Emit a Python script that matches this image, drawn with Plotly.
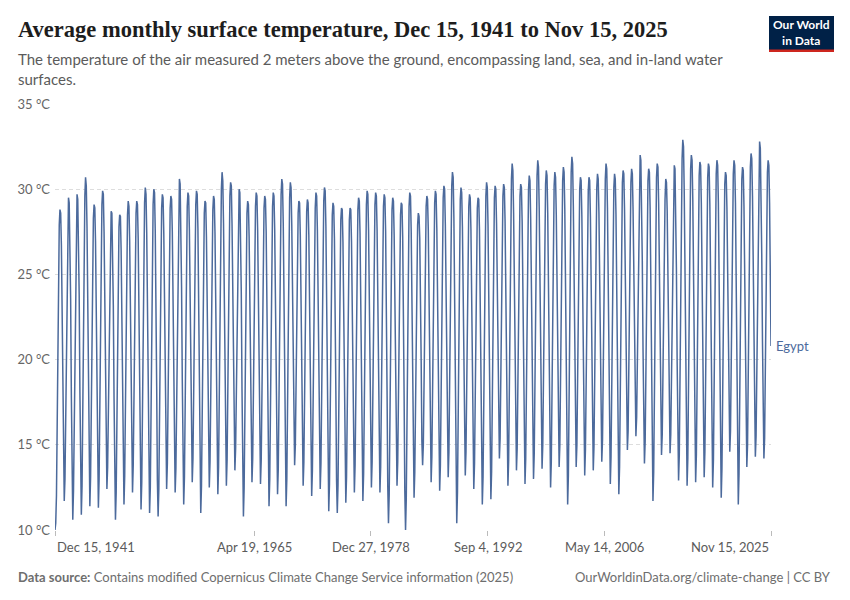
import pandas as pd
import plotly.graph_objects as go

# Monthly average surface temperature in Egypt (°C).
# Series starts Dec 1941 and ends Nov 2025.
temps_1940s = [
    10.0,                                                                    # 1941 Dec
    10.4, 12.0, 15.6, 20.8, 25.4, 27.9, 28.8, 28.6, 26.7, 23.4, 18.2, 13.4,  # 1942
    11.7, 13.0, 16.3, 21.4, 26.1, 28.6, 29.5, 29.2, 27.1, 23.6, 17.9, 12.8,  # 1943
    10.6, 12.3, 16.0, 21.2, 26.0, 28.9, 29.7, 29.4, 27.3, 23.8, 18.1, 12.9,  # 1944
    10.9, 12.6, 16.7, 22.0, 27.1, 29.6, 30.7, 30.2, 27.8, 24.0, 18.6, 13.5,  # 1945
    11.4, 13.1, 16.4, 21.5, 25.9, 28.3, 29.1, 28.9, 26.9, 23.5, 18.4, 13.3,  # 1946
    11.3, 13.0, 16.9, 22.1, 26.6, 29.1, 29.9, 29.7, 27.5, 24.1, 19.0, 14.2,  # 1947
    12.4, 13.7, 16.8, 21.3, 25.6, 28.0, 28.7, 28.6, 26.6, 23.2, 17.8, 12.7,  # 1948
    10.6, 12.2, 15.7, 20.9, 25.3, 27.8, 28.5, 28.4, 26.4, 23.0, 18.0, 13.2,  # 1949
]
temps_1950s = [
    11.5, 13.2, 16.6, 21.6, 26.0, 28.5, 29.3, 29.0, 27.0, 23.7, 18.7, 14.0,  # 1950
    12.2, 13.8, 17.0, 21.8, 26.2, 28.6, 29.3, 29.1, 27.1, 23.6, 18.2, 13.1,  # 1951
    11.2, 12.8, 16.5, 21.9, 26.7, 29.2, 30.1, 29.7, 27.4, 23.9, 18.3, 13.0,  # 1952
    11.0, 12.5, 16.3, 21.7, 26.5, 29.1, 30.0, 29.8, 27.5, 24.0, 18.4, 12.9,  # 1953
    10.8, 12.4, 16.2, 21.5, 26.2, 28.9, 29.7, 29.5, 27.4, 24.1, 19.1, 14.1,  # 1954
    12.4, 13.9, 17.3, 22.2, 26.6, 28.9, 29.6, 29.4, 27.5, 24.2, 19.2, 14.0,  # 1955
    12.2, 13.6, 17.0, 22.4, 27.0, 29.7, 30.6, 30.3, 27.9, 24.3, 18.8, 13.5,  # 1956
    11.5, 13.1, 16.8, 22.0, 26.7, 29.0, 29.8, 29.6, 27.6, 24.3, 19.3, 14.5,  # 1957
    12.8, 14.2, 17.5, 22.3, 26.8, 29.1, 29.9, 29.7, 27.7, 24.0, 18.4, 13.0,  # 1958
    11.0, 12.6, 16.4, 21.7, 26.3, 28.6, 29.3, 29.2, 27.2, 23.9, 19.0, 14.3,  # 1959
]
temps_1960s = [
    12.5, 14.0, 17.2, 22.1, 26.5, 28.8, 29.6, 29.4, 27.4, 24.1, 19.0, 13.9,  # 1960
    12.1, 13.7, 17.4, 22.6, 27.3, 30.0, 31.0, 30.5, 28.0, 24.4, 19.2, 14.2,  # 1961
    12.6, 14.1, 17.6, 22.5, 27.0, 29.6, 30.4, 30.2, 27.9, 24.5, 19.6, 15.0,  # 1962
    13.5, 14.8, 17.9, 22.4, 26.8, 29.2, 30.0, 29.8, 27.7, 24.0, 18.3, 12.8,  # 1963
    10.8, 12.5, 16.4, 21.8, 26.4, 28.6, 29.3, 29.1, 27.2, 24.0, 19.2, 14.4,  # 1964
    12.8, 14.2, 17.4, 22.3, 26.8, 29.0, 29.8, 29.6, 27.6, 24.2, 19.3, 14.3,  # 1965
    12.7, 14.1, 17.3, 22.1, 26.6, 28.9, 29.6, 29.4, 27.5, 23.8, 18.5, 13.2,  # 1966
    11.4, 13.0, 16.7, 22.0, 26.6, 29.0, 29.8, 29.6, 27.6, 24.1, 18.9, 13.8,  # 1967
    12.1, 13.6, 17.2, 22.5, 27.1, 29.7, 30.6, 30.3, 28.0, 24.2, 18.7, 13.3,  # 1968
    11.4, 13.0, 16.9, 22.4, 27.0, 29.5, 30.4, 30.1, 27.9, 24.6, 19.8, 15.2,  # 1969
]
temps_1970s = [
    13.8, 15.0, 17.9, 22.4, 26.6, 28.6, 29.3, 29.2, 27.3, 24.1, 19.2, 14.3,  # 1970
    12.6, 14.0, 17.2, 22.0, 26.3, 28.7, 29.4, 29.2, 27.3, 23.9, 18.6, 13.6,  # 1971
    12.0, 13.5, 16.9, 22.0, 26.5, 28.9, 29.8, 29.6, 27.6, 24.1, 18.8, 13.9,  # 1972
    12.4, 13.9, 17.3, 22.4, 26.9, 29.3, 30.1, 29.9, 27.8, 24.0, 18.4, 13.0,  # 1973
    11.1, 12.7, 16.5, 21.7, 26.2, 28.5, 29.2, 29.0, 27.1, 23.7, 18.2, 12.9,  # 1974
    11.0, 12.6, 16.3, 21.4, 25.9, 28.2, 28.9, 28.8, 26.9, 23.6, 18.5, 13.5,  # 1975
    11.6, 13.1, 16.6, 21.5, 25.9, 28.2, 28.9, 28.8, 26.9, 23.7, 18.9, 14.1,  # 1976
    12.2, 13.8, 17.1, 22.0, 26.4, 28.8, 29.5, 29.3, 27.4, 24.0, 18.7, 13.6,  # 1977
    11.7, 13.3, 16.9, 22.1, 26.7, 29.1, 29.9, 29.7, 27.6, 24.2, 19.1, 14.3,  # 1978
    12.5, 14.0, 17.4, 22.3, 26.8, 29.1, 29.8, 29.6, 27.6, 24.1, 19.0, 14.0,  # 1979
]
temps_1980s = [
    12.2, 13.7, 17.1, 22.1, 26.6, 29.0, 29.7, 29.5, 27.5, 23.9, 18.2, 12.6,  # 1980
    10.4, 12.1, 16.1, 21.6, 26.3, 28.8, 29.5, 29.3, 27.3, 24.1, 19.3, 14.4,  # 1981
    12.6, 14.0, 17.3, 22.0, 26.3, 28.5, 29.2, 29.1, 27.2, 23.6, 17.9, 12.3,  # 1982
    10.0, 11.8, 15.9, 21.5, 26.4, 29.0, 29.8, 29.6, 27.5, 23.8, 18.6, 13.7,  # 1983
    11.9, 13.4, 17.0, 22.2, 26.3, 27.9, 28.6, 28.4, 27.1, 24.5, 19.8, 15.2,  # 1984
    13.8, 15.0, 18.0, 22.6, 26.8, 29.0, 29.6, 29.4, 27.6, 24.3, 19.2, 14.5,  # 1985
    12.8, 14.3, 17.6, 22.4, 26.9, 29.2, 29.9, 29.7, 27.7, 24.2, 19.0, 14.0,  # 1986
    12.3, 13.8, 17.4, 22.5, 27.1, 29.5, 30.2, 30.0, 27.9, 24.6, 19.6, 14.9,  # 1987
    13.1, 14.6, 18.0, 23.1, 27.8, 30.2, 31.0, 30.7, 28.3, 24.4, 18.4, 12.6,  # 1988
    10.4, 12.2, 16.6, 22.3, 27.1, 29.4, 30.1, 29.8, 27.8, 24.6, 19.6, 14.9,  # 1989
]
temps_1990s = [
    13.2, 14.6, 17.9, 22.6, 26.9, 29.0, 29.7, 29.5, 27.6, 24.2, 19.1, 14.3,  # 1990
    12.4, 13.9, 17.4, 22.3, 26.8, 28.9, 29.5, 29.4, 27.6, 24.0, 18.6, 13.5,  # 1991
    11.5, 13.1, 17.0, 22.4, 27.2, 29.6, 30.4, 30.1, 27.9, 24.2, 18.7, 13.8,  # 1992
    11.8, 13.4, 17.3, 22.6, 27.2, 29.5, 30.2, 30.0, 28.0, 24.7, 20.0, 15.6,  # 1993
    14.2, 15.4, 18.5, 23.0, 27.3, 29.6, 30.3, 30.1, 28.1, 24.6, 19.4, 14.6,  # 1994
    12.6, 14.1, 17.8, 23.0, 27.9, 30.6, 31.5, 31.1, 28.6, 25.0, 19.9, 15.2,  # 1995
    13.5, 14.8, 18.2, 23.0, 27.4, 29.6, 30.3, 30.1, 28.1, 24.6, 19.5, 14.8,  # 1996
    12.7, 14.2, 17.8, 23.0, 27.6, 30.0, 30.8, 30.5, 28.3, 24.8, 19.7, 15.0,  # 1997
    13.0, 14.5, 18.2, 23.5, 28.2, 30.8, 31.7, 31.3, 28.9, 25.3, 20.1, 15.4,  # 1998
    13.6, 15.0, 18.5, 23.4, 27.9, 30.3, 31.1, 30.8, 28.6, 25.0, 19.5, 14.6,  # 1999
]
temps_2000s = [
    12.5, 14.0, 17.9, 23.2, 27.8, 30.2, 31.0, 30.7, 28.5, 25.1, 20.1, 15.5,  # 2000
    13.7, 15.0, 18.5, 23.4, 28.0, 30.5, 31.3, 31.0, 28.8, 25.0, 19.2, 13.9,  # 2001
    11.5, 13.2, 17.6, 23.3, 28.3, 31.0, 31.9, 31.5, 29.0, 25.3, 20.2, 15.5,  # 2002
    13.7, 15.0, 18.3, 23.2, 27.7, 30.0, 30.7, 30.5, 28.4, 24.9, 19.8, 15.0,  # 2003
    13.2, 14.7, 18.1, 23.1, 27.6, 29.9, 30.7, 30.5, 28.4, 25.0, 19.9, 15.2,  # 2004
    13.5, 14.9, 18.3, 23.2, 27.8, 30.1, 30.9, 30.6, 28.6, 25.2, 20.2, 15.6,  # 2005
    14.0, 15.3, 18.7, 23.6, 28.1, 30.6, 31.5, 31.2, 28.9, 25.1, 19.6, 14.7,  # 2006
    12.7, 14.3, 18.0, 23.2, 27.8, 30.1, 30.9, 30.6, 28.5, 24.9, 19.3, 14.1,  # 2007
    12.1, 13.7, 17.8, 23.3, 28.0, 30.4, 31.1, 30.9, 28.8, 25.4, 20.5, 16.0,  # 2008
    14.7, 15.8, 19.0, 23.6, 28.0, 30.4, 31.2, 30.9, 28.8, 25.6, 20.9, 16.6,  # 2009
]
temps_2010s = [
    15.5, 16.6, 19.6, 24.3, 28.7, 31.2, 32.0, 31.7, 29.4, 25.8, 20.7, 15.9,  # 2010
    13.9, 15.2, 18.6, 23.5, 28.1, 30.5, 31.2, 31.0, 28.9, 25.0, 19.3, 14.0,  # 2011
    11.7, 13.4, 17.9, 23.5, 28.4, 30.7, 31.5, 31.3, 29.1, 25.6, 20.8, 16.2,  # 2012
    14.4, 15.6, 18.8, 23.6, 27.4, 29.4, 30.6, 30.4, 28.7, 25.5, 20.6, 15.9,  # 2013
    14.5, 15.6, 18.8, 23.6, 28.1, 30.6, 31.4, 31.2, 29.0, 25.3, 19.9, 15.0,  # 2014
    12.9, 14.4, 18.4, 23.8, 28.8, 31.8, 32.9, 32.5, 29.8, 25.8, 20.1, 14.8,  # 2015
    12.6, 14.2, 18.4, 23.9, 28.8, 31.2, 32.0, 31.7, 29.4, 25.6, 20.0, 15.0,  # 2016
    12.8, 14.4, 18.4, 23.7, 28.5, 30.8, 31.6, 31.4, 29.2, 25.6, 20.2, 15.3,  # 2017
    13.1, 14.6, 18.5, 23.7, 28.4, 30.7, 31.5, 31.3, 29.1, 25.4, 19.9, 14.7,  # 2018
    12.5, 14.1, 18.2, 23.7, 28.6, 30.9, 31.7, 31.4, 29.2, 25.3, 19.5, 14.1,  # 2019
]
temps_2020s = [
    11.9, 13.6, 17.9, 23.3, 28.0, 30.3, 31.0, 30.8, 28.9, 25.8, 21.0, 16.4,  # 2020
    14.6, 15.8, 19.0, 23.9, 28.5, 30.9, 31.7, 31.4, 29.2, 25.2, 19.3, 14.0,  # 2021
    11.5, 13.3, 17.8, 23.4, 28.3, 30.6, 31.3, 31.1, 29.0, 25.5, 20.5, 15.9,  # 2022
    13.7, 15.0, 18.8, 24.0, 28.9, 31.3, 32.1, 31.8, 29.6, 26.0, 21.0, 16.5,  # 2023
    14.3, 15.5, 19.1, 24.3, 29.2, 31.9, 32.8, 32.4, 29.9, 26.2, 21.1, 16.4,  # 2024
    14.2, 15.4, 19.0, 24.1, 28.9, 31.0, 31.7, 31.4, 29.2, 25.6, 20.8,        # 2025 (to Nov)
]

country = "Egypt"
start_month = "1941-12-01"
y_ticks = [10, 15, 20, 25, 30, 35]
y_tick_labels = ["10 °C", "15 °C", "20 °C", "25 °C", "30 °C", "35 °C"]
x_tick_dates = ["1941-12-15", "1965-04-19", "1978-12-27", "1992-09-04", "2006-05-14", "2025-11-15"]
x_tick_labels = ["Dec 15, 1941", "Apr 19, 1965", "Dec 27, 1978", "Sep 4, 1992", "May 14, 2006", "Nov 15, 2025"]

temps = (temps_1940s + temps_1950s + temps_1960s + temps_1970s + temps_1980s
         + temps_1990s + temps_2000s + temps_2010s + temps_2020s)
dates = pd.date_range(start=start_month, periods=len(temps), freq="MS") + pd.Timedelta(days=14)

W, H = 850, 600
ML, MR, MT, MB = 55, 79, 104, 70
PW, PH = W - ML - MR, H - MT - MB


def px(x):
    return (x - ML) / PW


def py(y):
    return (H - MB - y) / PH


LINE = "#4c6a9c"
GRAY = "#5b5b5b"
AXIS_GRAY = "#666666"

fig = go.Figure()
fig.add_trace(go.Scatter(
    x=dates, y=temps, mode="lines", name=country,
    line=dict(color=LINE, width=1.5),
    hoverinfo="skip", showlegend=False,
))

fig.update_layout(
    width=W, height=H,
    margin=dict(l=ML, r=MR, t=MT, b=MB),
    paper_bgcolor="white", plot_bgcolor="white",
    font=dict(family="Lato", color=GRAY),
    xaxis=dict(
        type="date",
        range=[dates[0], dates[-1]],
        showgrid=False, zeroline=False, showline=False,
        tickmode="array", tickvals=x_tick_dates, ticktext=[""] * len(x_tick_dates),
        ticks="outside", ticklen=5, tickcolor="#bbbbbb", tickwidth=1,
    ),
    yaxis=dict(
        range=[10, 35],
        tickmode="array", tickvals=y_ticks, ticktext=y_tick_labels,
        showgrid=True, gridcolor="#dddddd", griddash="4px,3px", gridwidth=1,
        zeroline=False, showline=False, ticks="",
        tickfont=dict(family="Lato", size=13, color=AXIS_GRAY),
        ticklabelstandoff=4,
    ),
)

# x tick labels (first left-aligned, last right-aligned, others centred)
for i, (d, lab) in enumerate(zip(x_tick_dates, x_tick_labels)):
    anchor = "left" if i == 0 else ("right" if i == len(x_tick_dates) - 1 else "center")
    fig.add_annotation(x=d, y=0, xref="x", yref="paper", yanchor="top", yshift=-7,
                       xanchor=anchor, text=lab, showarrow=False,
                       font=dict(family="Lato", size=13, color=GRAY))

# series label
fig.add_annotation(x=dates[-1], y=temps[-1], xref="x", yref="y", xanchor="left", xshift=3,
                   text=country, showarrow=False, font=dict(family="Lato", size=13, color=LINE))

# title & subtitle
fig.add_annotation(
    x=px(16), y=py(30), xref="paper", yref="paper", xanchor="left", yanchor="middle",
    text="<b>Average monthly surface temperature, Dec 15, 1941 to Nov 15, 2025</b>",
    showarrow=False, font=dict(family="Liberation Serif", size=22.5, color="#1d1d1d"),
)
fig.add_annotation(
    x=px(16), y=py(48), xref="paper", yref="paper", xanchor="left", yanchor="top",
    text="The temperature of the air measured 2 meters above the ground, encompassing land, sea, and in-land water<br>surfaces.",
    showarrow=False, align="left",
    font=dict(family="Lato", size=15, color=GRAY),
)

# footer
fig.add_annotation(
    x=px(16), y=py(577), xref="paper", yref="paper", xanchor="left", yanchor="middle",
    text="<b>Data source:</b> Contains modified Copernicus Climate Change Service information (2025)",
    showarrow=False, font=dict(family="Lato", size=13, color="#6e6e6e"),
)
fig.add_annotation(
    x=px(833), y=py(577), xref="paper", yref="paper", xanchor="right", yanchor="middle",
    text="OurWorldinData.org/climate-change | CC BY",
    showarrow=False, font=dict(family="Lato", size=13, color="#6e6e6e"),
)

# logo
fig.add_shape(type="rect", xref="paper", yref="paper",
              x0=px(769), x1=px(834), y0=py(52), y1=py(16),
              fillcolor="#002147", line=dict(width=0), layer="above")
fig.add_shape(type="rect", xref="paper", yref="paper",
              x0=px(769), x1=px(834), y0=py(52), y1=py(49.5),
              fillcolor="#ce261e", line=dict(width=0), layer="above")
fig.add_annotation(
    x=px(801.5), y=py(33), xref="paper", yref="paper", xanchor="center", yanchor="middle",
    text="<b>Our World<br>in Data</b>", showarrow=False, align="center",
    font=dict(family="Lato", size=12, color="white"),
)

fig.write_html("out.html", config={"displayModeBar": False},
               post_script="document.body.style.margin='0';")
